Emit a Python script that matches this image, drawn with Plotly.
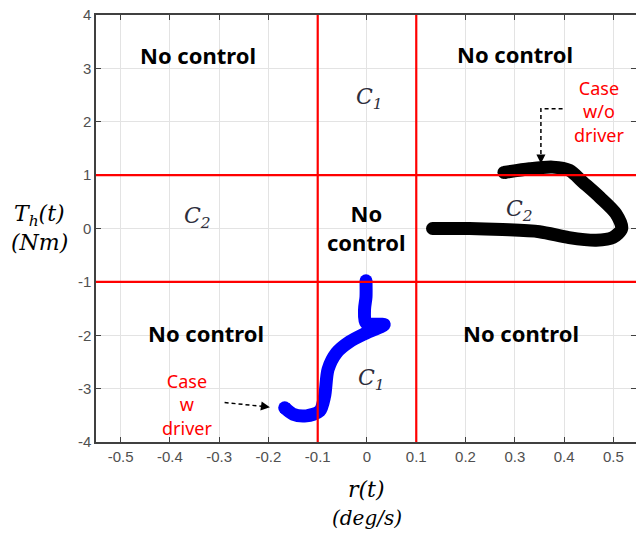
import plotly.graph_objects as go

# ---- data ----
x_ticks = [-0.5, -0.4, -0.3, -0.2, -0.1, 0, 0.1, 0.2, 0.3, 0.4, 0.5]
x_ticklabels = ["-0.5", "-0.4", "-0.3", "-0.2", "-0.1", "0", "0.1", "0.2", "0.3", "0.4", "0.5"]
y_ticks = [-4, -3, -2, -1, 0, 1, 2, 3, 4]
y_ticklabels = ["-4", "-3", "-2", "-1", "0", "1", "2", "3", "4"]

# case without driver (black)
r_wo = [0.133, 0.208, 0.275, 0.35, 0.41, 0.465, 0.499, 0.517, 0.505, 0.472, 0.438, 0.411, 0.377, 0.33, 0.278]
T_wo = [0.0, 0.0, -0.02, -0.06, -0.17, -0.22, -0.17, 0.0, 0.28, 0.59, 0.87, 1.09, 1.15, 1.12, 1.05]

# case with driver (blue)
r_w = [-0.167, -0.15, -0.123, -0.096, -0.086, -0.079, -0.062, -0.035, -0.002, 0.035, -0.002, -0.005, -0.002, -0.002]
T_w = [-3.36, -3.48, -3.51, -3.42, -3.14, -2.64, -2.33, -2.12, -1.96, -1.80, -1.77, -1.52, -1.28, -0.98]

# region boundaries
r_bounds = [-0.1, 0.1]
T_bounds = [-1, 1]

# region labels
region_text = ["No control", "No control", "No control", "No control", "No<br>control"]
region_x = [-0.344, 0.30, -0.326, 0.313, 0.0]
region_y = [3.25, 3.27, -1.95, -1.95, 0.02]

c_text = ["C<sub>1</sub>", "C<sub>2</sub>", "C<sub>2</sub>", "C<sub>1</sub>"]
c_x = [0.005, -0.345, 0.31, 0.01]
c_y = [2.43, 0.21, 0.34, -2.83]

case_text = ["Case<br>w/o<br>driver", "Case<br>w<br>driver"]
case_x = [0.47, -0.366]
case_y = [2.2, -3.3]

# pointer arrows (dashed)
arrow1_x = [0.397, 0.353, 0.353]
arrow1_y = [2.245, 2.245, 1.30]
arrow2_x = [-0.289, -0.205]
arrow2_y = [-3.26, -3.34]

fig = go.Figure()

# boundaries
for rb in r_bounds:
    fig.add_shape(type="line", xref="x", yref="paper", x0=rb, x1=rb, y0=0, y1=1,
                  line=dict(color="#ff0000", width=2.2), layer="above")
for tb in T_bounds:
    fig.add_shape(type="line", xref="paper", yref="y", x0=0, x1=1, y0=tb, y1=tb,
                  line=dict(color="#ff0000", width=2.2), layer="above")

for xs, ys, col in [(r_wo, T_wo, "black"), (r_w, T_w, "#0000ff")]:
    fig.add_trace(go.Scatter(x=xs, y=ys, mode="lines",
                             line=dict(color=col, width=13, shape="spline", smoothing=0.8),
                             showlegend=False, hoverinfo="skip"))
    # round end caps
    fig.add_trace(go.Scatter(x=[xs[0], xs[-1]], y=[ys[0], ys[-1]], mode="markers",
                             marker=dict(color=col, size=13, line=dict(width=0)),
                             showlegend=False, hoverinfo="skip"))

# dashed pointer lines
fig.add_trace(go.Scatter(x=arrow1_x, y=arrow1_y, mode="lines",
                         line=dict(color="black", width=1.5, dash="4px,3px"),
                         showlegend=False, hoverinfo="skip"))
fig.add_trace(go.Scatter(x=arrow2_x, y=arrow2_y, mode="lines",
                         line=dict(color="black", width=1.5, dash="4px,3px"),
                         showlegend=False, hoverinfo="skip"))
# arrow heads
fig.add_annotation(x=arrow1_x[-1], y=arrow1_y[-1] - 0.08, ax=arrow1_x[-1], ay=arrow1_y[-1] + 0.05,
                   xref="x", yref="y", axref="x", ayref="y", text="", showarrow=True,
                   arrowhead=2, arrowsize=1.2, arrowwidth=1.5, arrowcolor="black")
fig.add_annotation(x=arrow2_x[-1] + 0.008, y=arrow2_y[-1] - 0.01, ax=arrow2_x[-1] - 0.01, ay=arrow2_y[-1] + 0.015,
                   xref="x", yref="y", axref="x", ayref="y", text="", showarrow=True,
                   arrowhead=2, arrowsize=1.2, arrowwidth=1.5, arrowcolor="black")

for t, x, y in zip(region_text, region_x, region_y):
    fig.add_annotation(x=x, y=y, text="<b>" + t + "</b>", showarrow=False,
                       font=dict(family="Noto Sans", size=22, color="black"))
for t, x, y in zip(c_text, c_x, c_y):
    fig.add_annotation(x=x, y=y, text="<i>" + t + "</i>", showarrow=False,
                       font=dict(family="DejaVu Serif", size=22, color="#2e2e3c"))
for t, x, y in zip(case_text, case_x, case_y):
    fig.add_annotation(x=x, y=y, text=t, showarrow=False,
                       font=dict(family="Noto Sans", size=18, color="#ff0000"))

# axis titles
fig.add_annotation(xref="paper", yref="y", x=-0.104, y=0.25, text="<i>T<sub>h</sub>(t)</i>",
                   showarrow=False, xanchor="center",
                   font=dict(family="DejaVu Serif", size=22, color="black"))
fig.add_annotation(xref="paper", yref="y", x=-0.104, y=-0.27, text="<i>(Nm)</i>",
                   showarrow=False, xanchor="center",
                   font=dict(family="DejaVu Serif", size=22, color="black"))
fig.add_annotation(xref="x", yref="paper", x=0.0, y=-0.112, text="<i>r(t)</i>",
                   showarrow=False, yanchor="middle",
                   font=dict(family="DejaVu Serif", size=22, color="black"))
fig.add_annotation(xref="x", yref="paper", x=0.0, y=-0.178, text="<i>(deg/s)</i>",
                   showarrow=False, yanchor="middle",
                   font=dict(family="DejaVu Serif", size=20, color="black"))

axis_common = dict(showgrid=True, gridcolor="#e3e3e3", gridwidth=1,
                   showline=True, linecolor="#404040", linewidth=1.5,
                   ticks="inside", ticklen=5, tickcolor="#404040", mirror="ticks",
                   zeroline=False, automargin=False,
                   tickfont=dict(family="Liberation Sans", size=15, color="#505050"))

fig.update_xaxes(range=[-0.55, 0.546], tickvals=x_ticks, ticktext=x_ticklabels, **axis_common)
fig.update_yaxes(range=[-4, 4], tickvals=y_ticks, ticktext=y_ticklabels, **axis_common)

fig.update_layout(width=636, height=534, margin=dict(l=96, r=0, t=15, b=92),
                  plot_bgcolor="white", paper_bgcolor="white")

fig.write_html("out.html", config={"displayModeBar": False},
               post_script="document.body.style.margin='0';document.body.style.overflow='hidden';")
